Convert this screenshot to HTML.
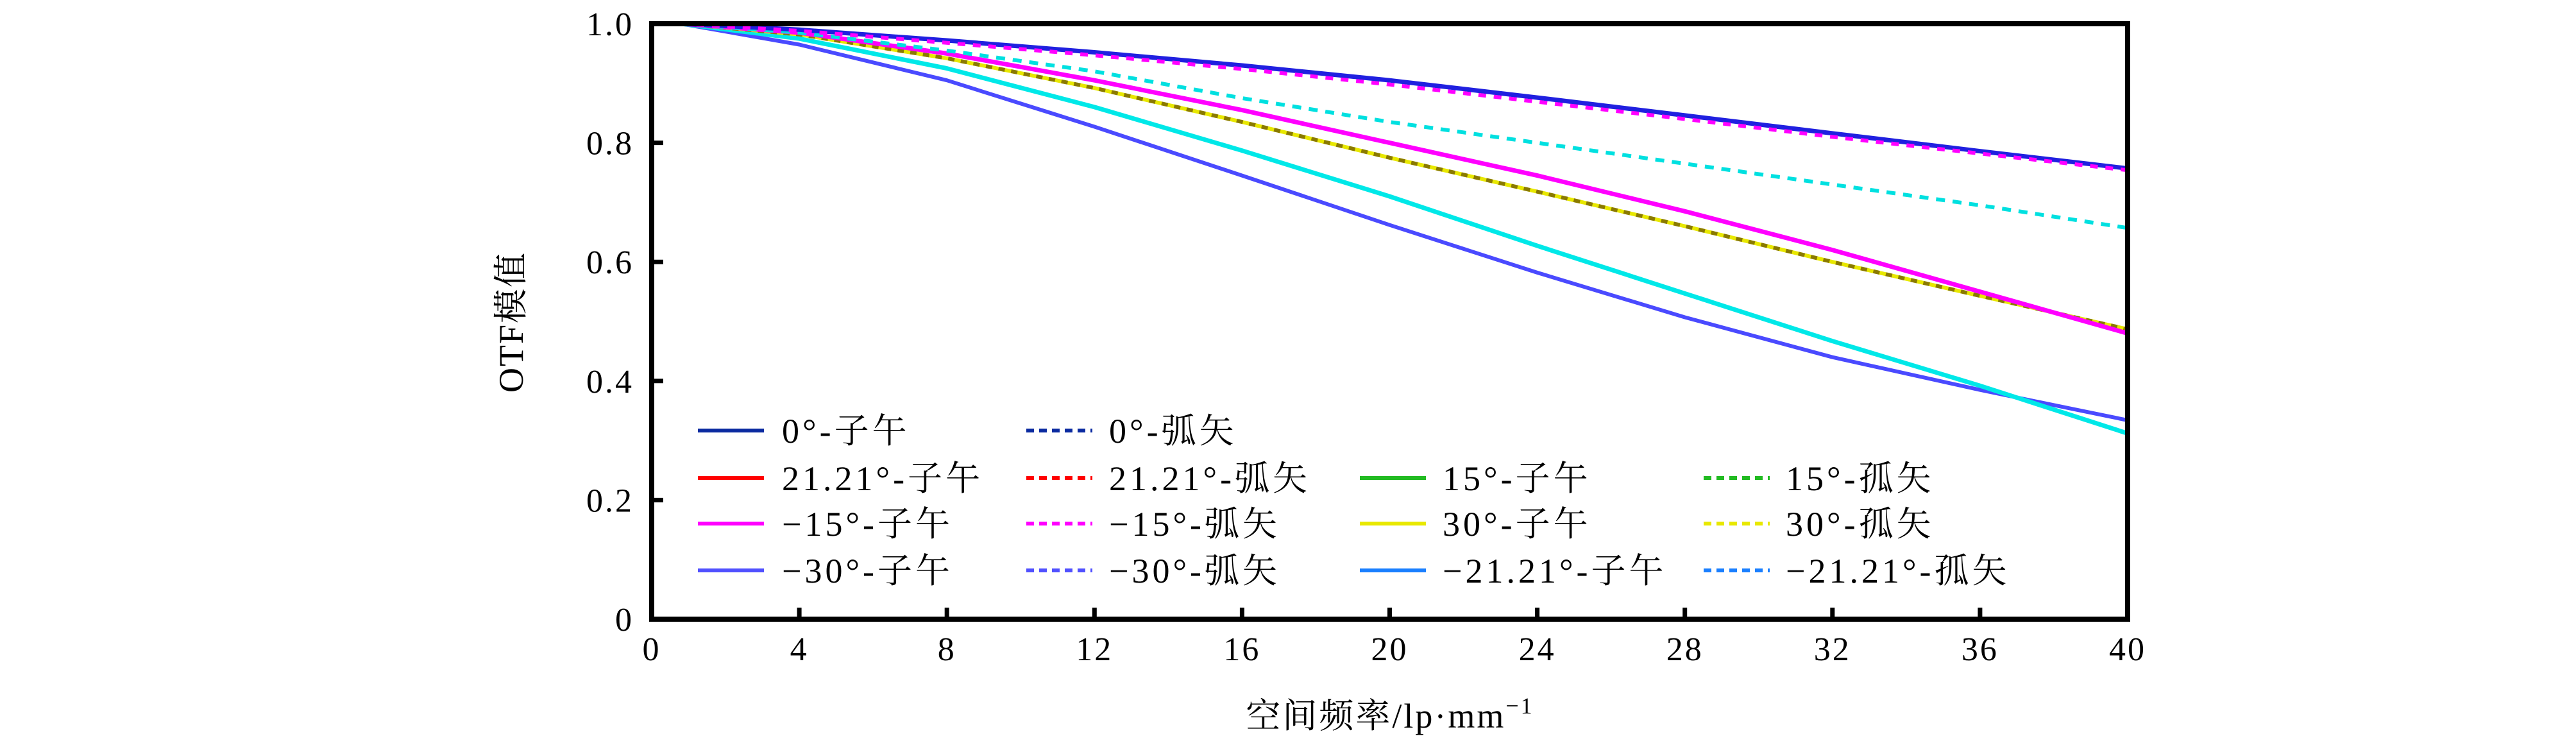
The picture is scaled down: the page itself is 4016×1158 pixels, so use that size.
<!DOCTYPE html>
<html><head><meta charset="utf-8"><style>
html,body{margin:0;padding:0;background:#fff;}
svg{display:block;font-family:"Liberation Serif","Noto Serif CJK SC",serif;}
</style></head><body>
<svg id="chart" width="4016" height="1158" viewBox="0 0 4016 1158">
<g id="plot"></g>
<g id="axes"></g>
<g id="legend"></g>
<text x="2167" y="1134" font-size="54" letter-spacing="3" text-anchor="middle">空间频率/lp·mm<tspan dy="-22" font-size="36">−1</tspan></text>
<text transform="translate(815,502) rotate(-90)" font-size="54" letter-spacing="2" text-anchor="middle">OTF模值</text>
</svg>
<script>
const xs = [0.8, 4, 8, 12, 16, 20, 24, 28, 32, 36, 40];
const s0T   = [1, 0.99, 0.972, 0.952, 0.93, 0.905, 0.876, 0.846, 0.816, 0.786, 0.757];
const s15S  = [1, 0.988, 0.968, 0.947, 0.924, 0.898, 0.869, 0.84, 0.81, 0.782, 0.754];
const sCyanD= [1, 0.985, 0.955, 0.92, 0.875, 0.835, 0.80, 0.765, 0.73, 0.695, 0.657];
const s15T  = [1, 0.985, 0.95, 0.905, 0.855, 0.80, 0.745, 0.685, 0.62, 0.55, 0.48];
const s30S  = [1, 0.982, 0.942, 0.892, 0.835, 0.775, 0.718, 0.66, 0.6, 0.543, 0.487];
const sCyanT= [1, 0.975, 0.925, 0.86, 0.787, 0.71, 0.627, 0.547, 0.467, 0.392, 0.312];
const s30T  = [1, 0.965, 0.905, 0.827, 0.745, 0.662, 0.582, 0.507, 0.44, 0.385, 0.334];
const xTicks = [0,4,8,12,16,20,24,28,32,36,40];
const yTicks = [0,0.2,0.4,0.6,0.8,1.0];
const yTickLabels = ["0","0.2","0.4","0.6","0.8","1.0"];
const legendLabels = ["0°-子午","0°-弧矢","21.21°-子午","21.21°-弧矢","−15°-子午","−15°-弧矢","−30°-子午","−30°-弧矢","15°-子午","15°-孤矢","30°-子午","30°-孤矢","−21.21°-子午","−21.21°-孤矢"];

const L=1016,R=3317,T=37,B=965;
const X=v=>L+(v/40)*(R-L);
const Y=v=>B-v*(B-T);
const NS="http://www.w3.org/2000/svg";
function mk(tag,attrs,parent){const e=document.createElementNS(NS,tag);for(const k in attrs)e.setAttribute(k,attrs[k]);parent.appendChild(e);return e;}
const plot=document.getElementById('plot'),axes=document.getElementById('axes'),leg=document.getElementById('legend');

function drawSeries(vals,color,dash,name,w){
  const d=vals.map((v,i)=>(i?'L':'M')+X(xs[i]).toFixed(1)+','+Y(v).toFixed(1)).join(' ');
  const p=mk('path',{d:d,fill:'none',stroke:color,'stroke-width':w||6,'stroke-dasharray':dash||'none','stroke-linejoin':'round'},plot);
  
  
}
drawSeries(s30T,'#4a4aff','', 'series-neg30-meridional');
drawSeries(sCyanT,'#00e8e8','', 'series-neg21-meridional',7);
drawSeries(s30S,'#e8e800','', 'series-30-sagittal-base');
drawSeries(s30S,'#8a7a00','10,10', 'series-30-sagittal');
drawSeries(s15T,'#ff00ff','', 'series-neg15-meridional',7);
drawSeries(sCyanD,'#00e0e0','14,12', 'series-neg21-sagittal');
drawSeries(s0T,'#2020e0','', 'series-0-meridional',7);
drawSeries(s15S,'#ff00ff','12,12', 'series-neg15-sagittal');

const fr=mk('rect',{x:L,y:T,width:R-L,height:B-T,fill:'none',stroke:'#000','stroke-width':8},axes);


xTicks.forEach(v=>{
  const t=mk('line',{x1:X(v),x2:X(v),y1:B,y2:B-18,stroke:'#000','stroke-width':7},axes);
  
  
  const tx=mk('text',{x:X(v),y:B+64,'font-size':52,'letter-spacing':3,'text-anchor':'middle'},axes);
  tx.textContent=v;
  
  
});
yTicks.forEach((v,i)=>{
  const t=mk('line',{x1:L,x2:L+18,y1:Y(v),y2:Y(v),stroke:'#000','stroke-width':7},axes);
  
  
  const tx=mk('text',{x:L-28,y:Y(v)+18,'font-size':52,'letter-spacing':3,'text-anchor':'end'},axes);
  tx.textContent=yTickLabels[i];
  
  
});

const cols=[[1088,1219],[1600,1729],[2120,2249],[2656,2784]];
const rows=[671,745,816,889];
const items=[
 [0,0,'#0a2aa0',''],[1,0,'#0a2aa0','12,8'],
 [0,1,'#ff0000',''],[1,1,'#ff0000','12,8'],
 [0,2,'#ff00ff',''],[1,2,'#ff00ff','12,8'],
 [0,3,'#5050ff',''],[1,3,'#5050ff','12,8'],
 [2,1,'#22bb22',''],[3,1,'#22bb22','12,8'],
 [2,2,'#e8e800',''],[3,2,'#e8e800','12,8'],
 [2,3,'#1a7fff',''],[3,3,'#1a7fff','12,8']
];
items.forEach((it,i)=>{
  const [c,r,col,dash]=it;
  const g=mk('g',{},leg);
  
  
  mk('line',{x1:cols[c][0],x2:cols[c][0]+103,y1:rows[r],y2:rows[r],stroke:col,'stroke-width':6,'stroke-dasharray':dash||'none'},g);
  const tx=mk('text',{x:cols[c][1],y:rows[r]+19,'font-size':54,'letter-spacing':5},g);
  tx.textContent=legendLabels[i];
});
</script>
</body></html>
